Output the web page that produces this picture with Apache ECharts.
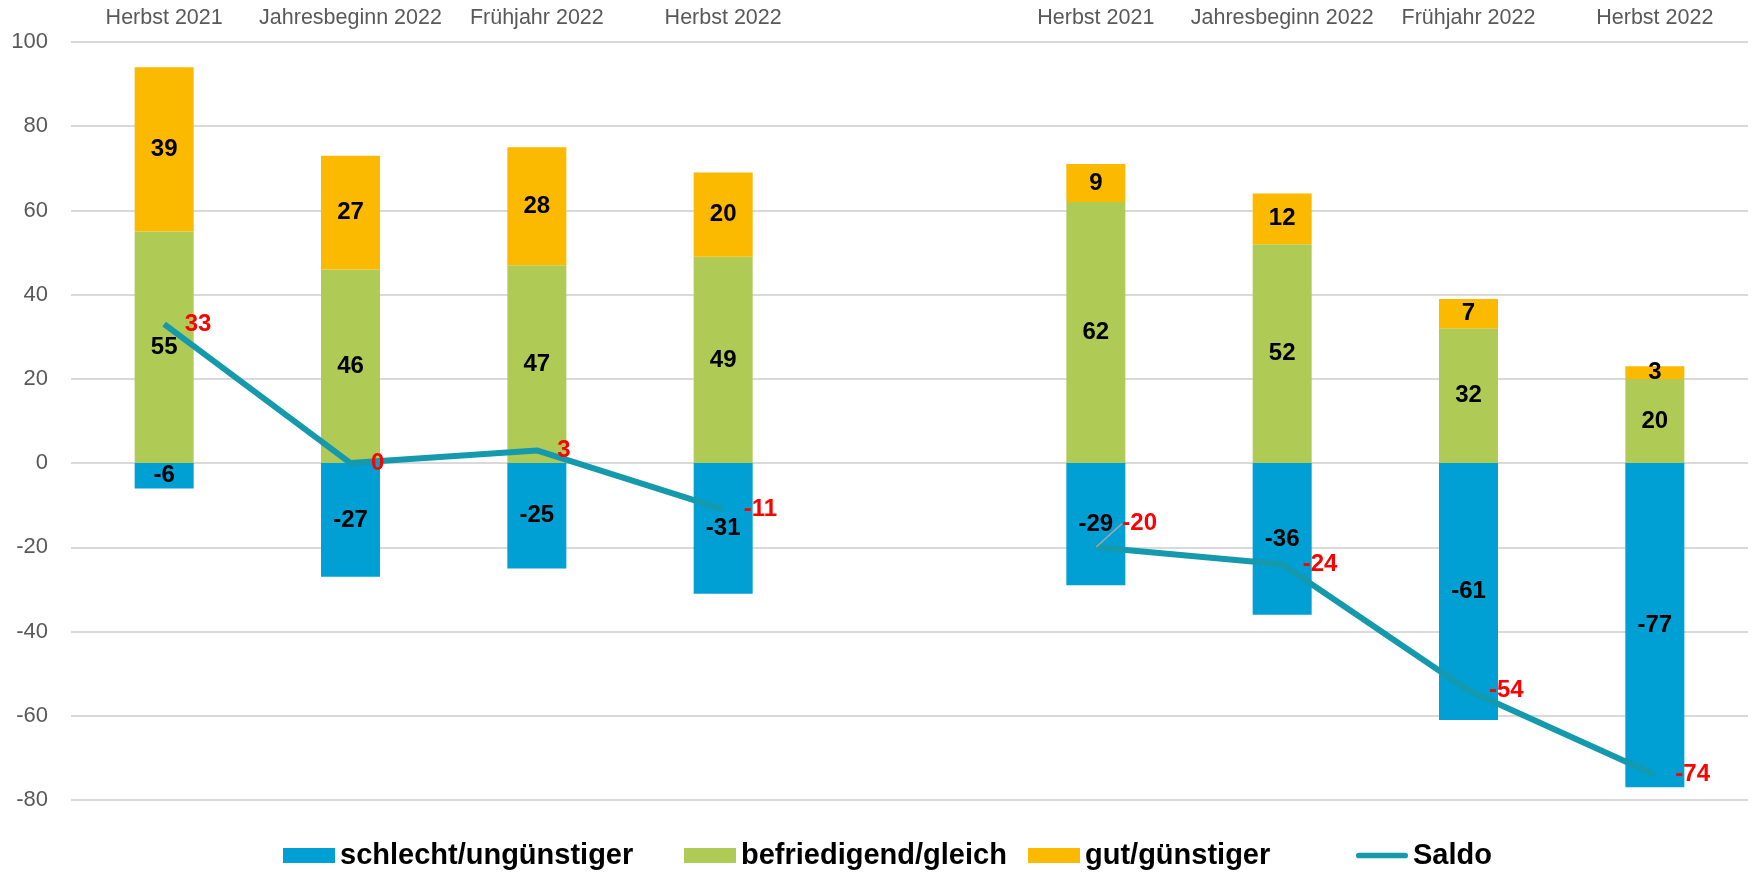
<!DOCTYPE html>
<html>
<head>
<meta charset="utf-8">
<script src="https://cdn.jsdelivr.net/npm/echarts@6/dist/echarts.min.js"></script>
<style>
html,body{margin:0;padding:0;background:#fff;}
#chart{width:1752px;height:872px;}
</style>
</head>
<body>
<div id="chart"></div>
<script>
const categories = ['Herbst 2021','Jahresbeginn 2022','Frühjahr 2022','Herbst 2022','','Herbst 2021','Jahresbeginn 2022','Frühjahr 2022','Herbst 2022'];
const schlecht = [-6,-27,-25,-31,null,-29,-36,-61,-77];
const befriedigend = [55,46,47,49,null,62,52,32,20];
const gut = [39,27,28,20,null,9,12,7,3];
const saldo = [33,0,3,-11,null,-20,-24,-54,-74];
const yTicks = {min:-80, max:100, interval:20};
const seriesNames = ['schlecht/ungünstiger','befriedigend/gleich','gut/günstiger','Saldo'];

const FONT = "'Liberation Sans', Arial, sans-serif";
const chart = echarts.init(document.getElementById('chart'), null, {renderer:'canvas'});

const barLabel = {show:true, position:'inside', color:'#000', fontWeight:'bold', fontSize:24, fontFamily:FONT,
  formatter: p => p.value == null ? '' : String(p.value)};

function barSeries(name, data, color){
  return {name, type:'bar', stack:'total', data, barWidth:59, itemStyle:{color}, label:barLabel, z:2};
}

const saldoData = saldo.map((v,i)=> (i===5 ? {value:v, labelLine:{show:true, lineStyle:{color:'#a6a6a6', width:1.5}}} : v));

const legendIcons = ['rect','rect','rect','path://M3,0 H52 A3,3 0 0 1 52,6 H3 A3,3 0 0 1 3,0 Z'];
const legendLefts = [283, 684, 1028, 1356];
const legends = seriesNames.map((n,i)=>({
  left:legendLefts[i], top:841, padding:0, itemWidth:52, itemHeight:15, itemGap:0,
  textStyle:{fontFamily:FONT, fontSize:29, fontWeight:'bold', color:'#000'},
  data:[{name:n, icon:legendIcons[i]}]
}));

chart.setOption({
  animation:false,
  backgroundColor:'#fff',
  grid:{left:71, right:4, top:42, bottom:72},
  legend:legends,
  xAxis:{
    type:'category', position:'top', data:categories,
    axisLine:{show:false}, axisTick:{show:false},
    axisLabel:{color:'#595959', fontSize:21.5, fontFamily:FONT, margin:13, interval:0}
  },
  yAxis:{
    type:'value', min:yTicks.min, max:yTicks.max, interval:yTicks.interval,
    axisLine:{show:false}, axisTick:{show:false},
    axisLabel:{color:'#595959', fontSize:22, fontFamily:FONT, margin:23},
    splitLine:{lineStyle:{color:'#d9d9d9', width:2}}
  },
  series:[
    barSeries(seriesNames[0], schlecht, '#009fd4'),
    barSeries(seriesNames[1], befriedigend, '#b0cb55'),
    barSeries(seriesNames[2], gut, '#fbb900'),
    {
      name:seriesNames[3], type:'line', data:saldoData, connectNulls:false,
      symbol:'circle', symbolSize:1, showSymbol:true,
      itemStyle:{color:'#1499ad'},
      lineStyle:{color:'#1499ad', width:6},
      z:5,
      label:{show:true, position:'right', distance:20, color:'#ff0000', fontWeight:'bold', fontSize:24, fontFamily:FONT},
      labelLayout: function(p){ if(p.dataIndex===5){ return {dx:6, dy:-24}; } }
    }
  ]
});
</script>
</body>
</html>
